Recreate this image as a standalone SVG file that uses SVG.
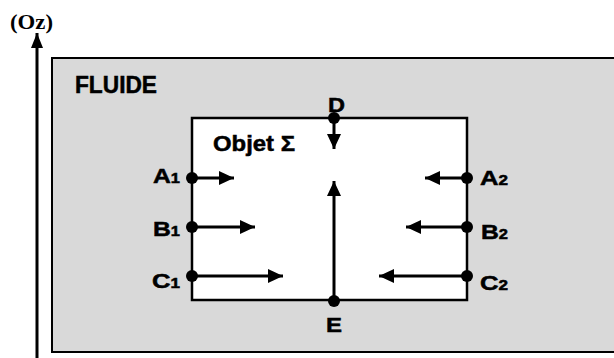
<svg xmlns="http://www.w3.org/2000/svg" width="614" height="358" viewBox="0 0 614 358">
<style>
.lbl{font-family:"Liberation Sans",Arial,sans-serif;font-weight:bold;font-size:21px;fill:#000;stroke:#000;stroke-width:0.5}
.sub{font-size:14px}
.ln{stroke:#000;stroke-width:3;fill:none}
.dot{fill:#000}
</style>
<defs>
<marker id="ah" markerUnits="userSpaceOnUse" viewBox="0 0 15 14" refX="15" refY="7" markerWidth="15" markerHeight="14" orient="auto">
<path d="M0,0 L15,7 L0,14 Z" fill="#000"/>
</marker>
<marker id="axh" markerUnits="userSpaceOnUse" viewBox="0 0 15 12" refX="15" refY="6" markerWidth="15" markerHeight="12" orient="auto">
<path d="M0,0 L15,6 L0,12 Z" fill="#000"/>
</marker>
</defs>
<rect width="614" height="358" fill="#fff"/>
<g id="axis">
<line class="ln" x1="37" y1="358" x2="37" y2="33" marker-end="url(#axh)"/>
<text x="10" y="29" textLength="43" lengthAdjust="spacingAndGlyphs" style="font-family:'Liberation Serif','Times New Roman',serif;font-weight:bold;font-size:21px">(Oz)</text>
</g>
<g id="fluide">
<rect x="52" y="58" width="570" height="294" fill="#d9d9d9" stroke="#000" stroke-width="2"/>
<text class="lbl" x="75" y="93" style="font-size:23px" textLength="82" lengthAdjust="spacingAndGlyphs">FLUIDE</text>
</g>
<g id="objet">
<rect x="192" y="118" width="275" height="182" fill="#fff" stroke="#000" stroke-width="2.5"/>
<text class="lbl" x="213" y="151" style="font-size:22px" textLength="82" lengthAdjust="spacingAndGlyphs">Objet Σ</text>
</g>
<g id="connectors">
<line class="ln" x1="192" y1="178" x2="234" y2="178" marker-end="url(#ah)"/>
<line class="ln" x1="192" y1="227" x2="255" y2="227" marker-end="url(#ah)"/>
<line class="ln" x1="192" y1="276" x2="283" y2="276" marker-end="url(#ah)"/>
<line class="ln" x1="467" y1="178" x2="425" y2="178" marker-end="url(#ah)"/>
<line class="ln" x1="467" y1="227" x2="406" y2="227" marker-end="url(#ah)"/>
<line class="ln" x1="467" y1="276" x2="379" y2="276" marker-end="url(#ah)"/>
<line class="ln" x1="334" y1="118" x2="334" y2="149" marker-end="url(#ah)"/>
<line class="ln" x1="334" y1="300" x2="334" y2="181" marker-end="url(#ah)"/>
</g>
<g id="A1"><circle class="dot" cx="192" cy="178" r="6"/><text class="lbl" x="153" y="183" textLength="27" lengthAdjust="spacingAndGlyphs">A<tspan class="sub">1</tspan></text></g>
<g id="B1"><circle class="dot" cx="192" cy="227" r="6"/><text class="lbl" x="153" y="236" textLength="27" lengthAdjust="spacingAndGlyphs">B<tspan class="sub">1</tspan></text></g>
<g id="C1"><circle class="dot" cx="192" cy="276" r="6"/><text class="lbl" x="152" y="288" textLength="28" lengthAdjust="spacingAndGlyphs">C<tspan class="sub">1</tspan></text></g>
<g id="A2"><circle class="dot" cx="467" cy="178" r="6"/><text class="lbl" x="480" y="185" textLength="28" lengthAdjust="spacingAndGlyphs">A<tspan class="sub">2</tspan></text></g>
<g id="B2"><circle class="dot" cx="467" cy="227" r="6"/><text class="lbl" x="481" y="239" textLength="27" lengthAdjust="spacingAndGlyphs">B<tspan class="sub">2</tspan></text></g>
<g id="C2"><circle class="dot" cx="467" cy="276" r="6"/><text class="lbl" x="480" y="290" textLength="28" lengthAdjust="spacingAndGlyphs">C<tspan class="sub">2</tspan></text></g>
<g id="D"><circle class="dot" cx="334" cy="118" r="6"/><text class="lbl" x="328" y="112" textLength="17" lengthAdjust="spacingAndGlyphs">D</text></g>
<g id="E"><circle class="dot" cx="334" cy="301" r="6"/><text class="lbl" x="326" y="332" textLength="16" lengthAdjust="spacingAndGlyphs">E</text></g>
</svg>
